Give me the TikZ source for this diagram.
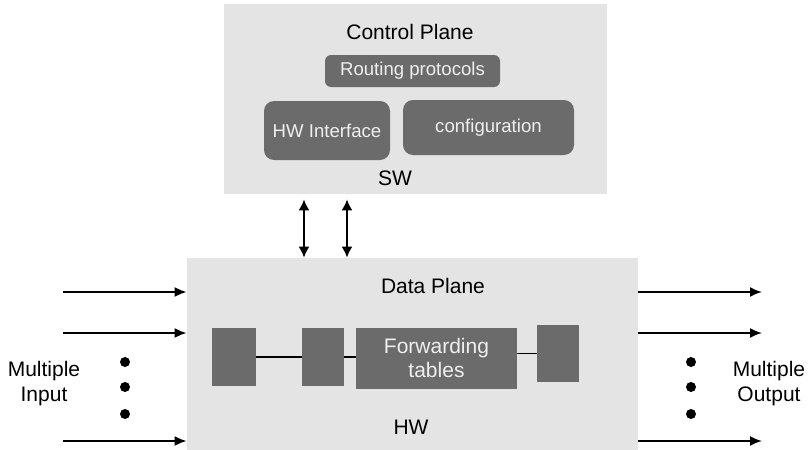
\documentclass[tikz,border=0pt]{standalone}
\usepackage{fontspec}
\setmainfont{Liberation Sans}
\usetikzlibrary{arrows.meta}
\definecolor{PlaneFill}{HTML}{E4E4E4}
\definecolor{BlockFill}{HTML}{6B6B6B}
\definecolor{BlockText}{HTML}{EFEFEF}

\begin{document}
\begin{tikzpicture}[
  x=0.5pt, y=-0.5pt,
  every node/.style={font=\fontsize{10.5}{12.5}\selectfont},
  plane/.style={fill=PlaneFill, inner sep=0pt},
  swblock/.style={fill=BlockFill, text=BlockText, inner sep=0pt, font=\fontsize{9.3}{11}\selectfont},
  hwblock/.style={fill=BlockFill, text=BlockText, inner sep=0pt, align=center, font=\fontsize{10.5}{12}\selectfont},
  flow/.style={-{Latex[length=6pt, width=5pt]}, line width=0.9pt},
  duplex/.style={{Latex[length=5.5pt, width=5.5pt]}-{Latex[length=5.5pt, width=5.5pt]}, line width=0.9pt},
  link/.style={line width=0.8pt},
  bigdot/.style={circle, fill=black, inner sep=0pt, minimum size=5pt},
]
\useasboundingbox (0,0) rectangle (811,450);

% ============ Control plane (SW) ============
\node[plane, minimum width=191.5pt, minimum height=95pt] (cp) at (415.5,99) {};
\node (cptitle) at (410,32) {Control Plane};
\node[swblock, rounded corners=3pt, minimum width=87.5pt, minimum height=16pt] (routing) at (412.5,71) {Routing protocols};
\node[swblock, rounded corners=5pt, minimum width=63pt, minimum height=29.5pt] (hwif) at (327,130.5) {HW Interface};
\node[swblock, rounded corners=5pt, minimum width=85.5pt, minimum height=27.5pt] (config) at (488.5,127.5) {configuration};
\node (sw) at (395,178) {SW};

% ============ Data plane (HW) ============
\node[plane, minimum width=225.5pt, minimum height=96pt] (dp) at (412.5,354) {};
\node (dptitle) at (433,286) {Data Plane};
\node[hwblock, minimum width=22pt, minimum height=29pt] (blockA) at (234,357) {};
\node[hwblock, minimum width=21pt, minimum height=29pt] (blockB) at (323,357) {};
\node[hwblock, minimum width=80.5pt, minimum height=30.5pt] (fwd) at (436.5,358) {Forwarding\\tables};
\node[hwblock, minimum width=21pt, minimum height=28.5pt] (blockC) at (558,353.5) {};
\node (hw) at (411,427) {HW};

% links inside the data plane
\draw[link] (blockA.east) -- (blockB.west);
\draw[link] (blockB.east) -- (blockB.east -| fwd.west);
\draw[link] (fwd.east |- blockC) -- (blockC.west);

% control <-> data
\coordinate (busL) at (304,0);
\coordinate (busR) at (347,0);
\draw[duplex, shorten <=2.5pt] (cp.south -| busL) -- (dp.north -| busL);
\draw[duplex, shorten <=2.5pt] (cp.south -| busR) -- (dp.north -| busR);

% ============ inputs ============
\foreach \i/\yy in {1/292, 2/333, 3/441}{
  \coordinate (in\i) at (63,\yy);
  \draw[flow] (in\i) -- (dp.west |- in\i);
}
\foreach \j/\yy in {1/362, 2/387, 3/414}{
  \node[bigdot] (indot\j) at (125,\yy) {};
}
\node[align=center] (inlabel) at (44,384) {Multiple\\Input};

% ============ outputs ============
\foreach \i/\yy in {1/292, 2/333, 3/441}{
  \coordinate (out\i) at (762,\yy);
  \draw[flow] (dp.east |- out\i) -- (out\i);
}
\foreach \j/\yy in {1/362, 2/387, 3/414}{
  \node[bigdot] (outdot\j) at (691,\yy) {};
}
\node[align=center] (outlabel) at (769,384) {Multiple\\Output};

\end{tikzpicture}
\end{document}
